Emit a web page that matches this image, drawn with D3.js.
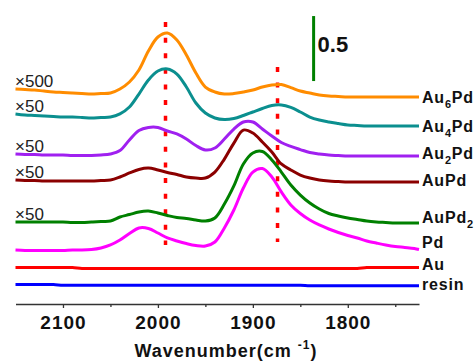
<!DOCTYPE html>
<html>
<head>
<meta charset="utf-8">
<script src="https://cdn.jsdelivr.net/npm/d3@7"></script>
<style>
  body { margin: 0; background: #fff; }
  svg { display: block; font-family: "Liberation Sans", Arial, sans-serif; }
</style>
</head>
<body>
<div id="chart"></div>
<script>
// Wavenumber grid (cm-1), shared by every spectrum
const wavenumbers = [2150, 2140, 2130, 2120, 2110, 2100, 2090, 2080, 2070, 2060,
  2050, 2040, 2030, 2020, 2010, 2000, 1990, 1980, 1970, 1960,
  1950, 1940, 1930, 1920, 1910, 1900, 1890, 1880, 1870, 1860,
  1850, 1840, 1830, 1820, 1810, 1800, 1790, 1780, 1770, 1760,
  1750, 1740, 1730, 1725];

// Absorbance (offset, stacked)
const au6pd = [1.654, 1.650, 1.646, 1.638, 1.631, 1.627, 1.623, 1.619, 1.615, 1.619,
  1.623, 1.654, 1.708, 1.800, 1.946, 2.054, 2.085, 2.031, 1.915, 1.777,
  1.669, 1.631, 1.615, 1.619, 1.631, 1.646, 1.669, 1.685, 1.688, 1.665,
  1.638, 1.623, 1.608, 1.600, 1.596, 1.592, 1.592, 1.592, 1.592, 1.592,
  1.592, 1.592, 1.592, 1.592];
const au4pd = [1.462, 1.454, 1.450, 1.446, 1.442, 1.438, 1.438, 1.435, 1.431, 1.435,
  1.438, 1.462, 1.515, 1.615, 1.723, 1.792, 1.808, 1.769, 1.669, 1.546,
  1.469, 1.431, 1.419, 1.427, 1.450, 1.477, 1.504, 1.527, 1.531, 1.512,
  1.477, 1.438, 1.415, 1.400, 1.388, 1.377, 1.373, 1.369, 1.369, 1.369,
  1.369, 1.369, 1.369, 1.369];
const au2pd = [1.154, 1.150, 1.150, 1.146, 1.146, 1.146, 1.142, 1.142, 1.142, 1.146,
  1.154, 1.181, 1.262, 1.335, 1.358, 1.358, 1.331, 1.308, 1.269, 1.219,
  1.185, 1.200, 1.269, 1.346, 1.400, 1.400, 1.346, 1.292, 1.242, 1.212,
  1.188, 1.165, 1.154, 1.146, 1.142, 1.138, 1.138, 1.138, 1.138, 1.138,
  1.138, 1.138, 1.138, 1.138];
const aupd = [0.954, 0.950, 0.950, 0.946, 0.946, 0.946, 0.946, 0.946, 0.946, 0.950,
  0.954, 0.977, 1.008, 1.035, 1.046, 1.031, 1.012, 0.996, 0.977, 0.969,
  0.969, 1.015, 1.115, 1.238, 1.338, 1.315, 1.246, 1.169, 1.077, 1.031,
  0.992, 0.969, 0.954, 0.946, 0.942, 0.938, 0.938, 0.938, 0.938, 0.938,
  0.938, 0.938, 0.938, 0.938];
const aupd2 = [0.631, 0.631, 0.631, 0.631, 0.631, 0.631, 0.627, 0.627, 0.631, 0.635,
  0.638, 0.669, 0.688, 0.708, 0.715, 0.700, 0.681, 0.665, 0.658, 0.646,
  0.638, 0.662, 0.769, 0.908, 1.077, 1.162, 1.173, 1.108, 1.015, 0.915,
  0.838, 0.777, 0.731, 0.696, 0.677, 0.662, 0.650, 0.638, 0.631, 0.627,
  0.623, 0.623, 0.623, 0.623];
const pd = [0.415, 0.412, 0.412, 0.412, 0.412, 0.412, 0.415, 0.415, 0.419, 0.431,
  0.454, 0.492, 0.542, 0.585, 0.581, 0.546, 0.508, 0.485, 0.465, 0.450,
  0.446, 0.477, 0.585, 0.723, 0.892, 1.015, 1.042, 0.977, 0.862, 0.762,
  0.696, 0.646, 0.608, 0.577, 0.550, 0.527, 0.508, 0.485, 0.469, 0.454,
  0.442, 0.435, 0.427, 0.419];
const au = [0.281, 0.281, 0.281, 0.281, 0.281, 0.281, 0.281, 0.273, 0.273, 0.273,
  0.273, 0.273, 0.273, 0.273, 0.273, 0.273, 0.273, 0.273, 0.273, 0.273,
  0.273, 0.273, 0.273, 0.273, 0.273, 0.273, 0.273, 0.273, 0.273, 0.273,
  0.273, 0.273, 0.273, 0.273, 0.273, 0.273, 0.273, 0.281, 0.281, 0.281,
  0.281, 0.281, 0.281, 0.281];
const resin = [0.150, 0.150, 0.150, 0.150, 0.150, 0.144, 0.144, 0.144, 0.144, 0.144,
  0.144, 0.144, 0.144, 0.144, 0.144, 0.144, 0.144, 0.144, 0.144, 0.144,
  0.144, 0.144, 0.144, 0.144, 0.144, 0.144, 0.144, 0.144, 0.144, 0.144,
  0.144, 0.141, 0.141, 0.141, 0.141, 0.141, 0.141, 0.141, 0.141, 0.141,
  0.141, 0.141, 0.141, 0.141];

const seriesNames = ["Au6Pd", "Au4Pd", "Au2Pd", "AuPd", "AuPd2", "Pd", "Au", "resin"];
const seriesValues = [au6pd, au4pd, au2pd, aupd, aupd2, pd, au, resin];
const seriesColors = ["#ff8c00", "#0b8f8f", "#a020f0", "#8b0000", "#008000", "#ff00ff", "#ff0000", "#0000ff"];
const multipliers = ["×500", "×50", "×50", "×50", "×50", "", "", ""];

// Dotted reference lines: wavenumber, bottom and top absorbance
const refLines = [[1992, 0.454, 2.169], [1874, 0.477, 1.823]];
// Scale bar
const scaleBarWave = 1836;
const scaleBarBase = 1.715;
const scaleBarSize = 0.5;

const majorTicks = [2100, 2000, 1900, 1800];
const minorTicks = [2050, 1950, 1850, 1750];

// Chart specs
let svg = d3.select("#chart").append("svg")
  .attr("width", 476)
  .attr("height", 361);

let x = d3.scaleLinear().domain([2150, 1725]).range([15.5, 419]);
let y = d3.scaleLinear().domain([0, 304 / 130]).range([304, 0]);

// Bottom axis, major ticks with labels
let axis = svg.append("g")
  .attr("transform", "translate(0,304)")
  .call(d3.axisBottom(x).tickValues(majorTicks).tickSize(4).tickSizeOuter(0)
    .tickPadding(8).tickFormat(d3.format("d")));
axis.select(".domain").attr("stroke", "#333").attr("stroke-width", 1.3);
axis.selectAll(".tick line").attr("stroke", "#333").attr("stroke-width", 1.3);
axis.selectAll(".tick text")
  .attr("fill", "#111")
  .style("font-size", "19px")
  .style("font-weight", "bold")
  .style("letter-spacing", "1px")
  .style("font-family", "'Liberation Sans', Arial, sans-serif");

// Minor ticks, no labels
let minor = svg.append("g")
  .attr("transform", "translate(0,304)")
  .call(d3.axisBottom(x).tickValues(minorTicks).tickSize(3).tickSizeOuter(0).tickFormat(""));
minor.select(".domain").remove();
minor.selectAll(".tick line").attr("stroke", "#333").attr("stroke-width", 1.3);

// Axis title
let title = svg.append("text")
  .attr("x", 226)
  .attr("y", 357)
  .attr("text-anchor", "middle")
  .attr("fill", "#111")
  .style("font-size", "18px")
  .style("font-weight", "bold")
  .style("letter-spacing", "1px");
title.append("tspan").text("Wavenumber(cm ");
title.append("tspan").attr("dy", -8).style("font-size", "12px").text("-1");
title.append("tspan").attr("dy", 8).text(")");

// Dotted reference lines
svg.append("g").selectAll("line")
  .data(refLines)
  .join("line")
  .attr("x1", d => x(d[0]))
  .attr("x2", d => x(d[0]))
  .attr("y1", d => y(d[2]))
  .attr("y2", d => y(d[1]))
  .attr("stroke", "#ff0000")
  .attr("stroke-width", 3.5)
  .attr("stroke-dasharray", "5 10.6");

// Spectra
let line = d3.line()
  .x((d, i) => x(wavenumbers[i]))
  .y(d => y(d))
  .curve(d3.curveCatmullRom.alpha(0.5));

// draw from the bottom up so upper traces sit on top
for (let s = seriesValues.length - 1; s >= 0; s--) {
  svg.append("path")
    .attr("d", line(seriesValues[s]))
    .attr("fill", "none")
    .attr("stroke", seriesColors[s])
    .attr("stroke-width", 3)
    .attr("stroke-linejoin", "round");
}

// Right-hand labels (shifts tune the baseline against the trace end)
let labelShift = [6, 6, 3, 4, 0, -1.5, 2.5, 4.3];
seriesNames.forEach((name, s) => {
  let last = seriesValues[s][seriesValues[s].length - 1];
  let t = svg.append("text")
    .attr("x", x(1725) + 3)
    .attr("y", y(last) + labelShift[s])
    .attr("fill", "#111")
    .style("font-size", "16px")
    .style("font-weight", "bold")
    .style("letter-spacing", "0.8px");
  // digits become subscripts
  let parts = name.match(/[A-Za-z]+|\d+/g);
  let down = false;
  parts.forEach(p => {
    let isNum = /\d/.test(p);
    let ts = t.append("tspan").text(p);
    if (isNum) {
      ts.attr("dy", 5).style("font-size", "11px");
      down = true;
    } else if (down) {
      ts.attr("dy", -5);
      down = false;
    }
  });
});

// Left-hand multipliers
multipliers.forEach((m, s) => {
  if (!m) return;
  svg.append("text")
    .attr("x", 15)
    .attr("y", y(seriesValues[s][0]) - 1.5)
    .attr("fill", "#222")
    .style("font-size", "17px")
    .text(m);
});

// Scale bar
svg.append("line")
  .attr("x1", x(scaleBarWave))
  .attr("x2", x(scaleBarWave))
  .attr("y1", y(scaleBarBase))
  .attr("y2", y(scaleBarBase + scaleBarSize))
  .attr("stroke", "#008000")
  .attr("stroke-width", 3);
svg.append("text")
  .attr("x", x(scaleBarWave) + 4)
  .attr("y", 52)
  .attr("fill", "#111")
  .style("font-size", "22px")
  .style("font-weight", "bold")
  .text(scaleBarSize);
</script>
</body>
</html>
